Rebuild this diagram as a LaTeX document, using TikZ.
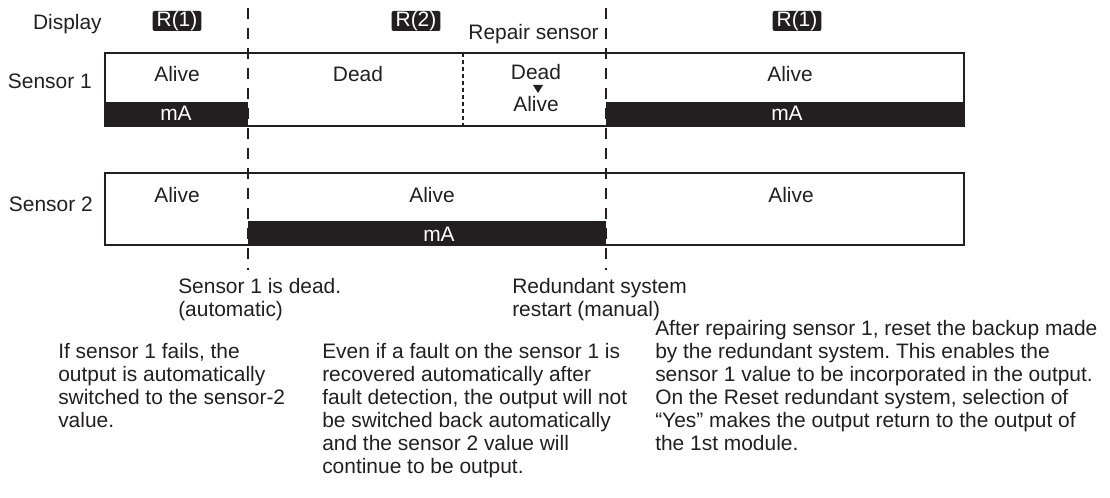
\documentclass[tikz,border=0pt]{standalone}
\usepackage{fontspec}
\setmainfont{Liberation Sans}
\usetikzlibrary{positioning, calc}
\definecolor{ink}{RGB}{35,31,32}
\frenchspacing

\begin{document}
\begin{tikzpicture}[
        x=0.75pt, y=-0.75pt,
        every node/.style={
            text=ink, inner sep=0pt,
            font=\fontsize{15.7}{17.2}\selectfont,
        },
        lane/.style={draw=ink, line width=1.4pt},
        badge/.style={
            fill=ink, text=white, rounded corners=1.5pt,
            minimum height=15pt, inner xsep=3pt,
        },
        switchover/.style={
            draw=ink, line width=1.5pt, dash pattern=on 8.25pt off 6.75pt,
        },
        repairline/.style={
            draw=ink, line width=1.2pt, dash pattern=on 3pt off 2.25pt,
        },
        state/.style={anchor=base},
        note/.style={anchor=north west, align=left},
    ]
    \useasboundingbox (0,0) rectangle (1110,498);

    \coordinate (fail-top) at (248,8);
    \coordinate (fail-bottom) at (248,270);
    \coordinate (restart-top) at (606,8);
    \coordinate (restart-bottom) at (606,270);
    \coordinate (repair-top) at (463,53);
    \coordinate (repair-bottom) at (463,126);

    \fill[ink] (105,102) rectangle (248,126);
    \fill[ink] (606,102) rectangle (964,126);
    \fill[ink] (248,221) rectangle (606,245);
    \draw[lane] (105,53) rectangle (964,126);
    \draw[lane] (105,173) rectangle (964,245);
    \draw[repairline] (repair-top) -- (repair-bottom);
    \draw[switchover] (fail-top) -- (fail-bottom);
    \draw[switchover] (restart-top) -- (restart-bottom);

    \node[anchor=base east] (display) at (102,30) {Display};
    \node[badge] (r1-before) at (177,21) {R(1)};
    \node[badge] (r2) at (416,21) {R(2)};
    \node[badge] (r1-after) at (797,21) {R(1)};
    \node[anchor=base east] (repair) at (599,40) {Repair sensor};

    \node[anchor=base east] (sensor1) at (92,89) {Sensor 1};
    \node[state] (s1-alive) at (177,82) {Alive};
    \node[state, text=white] (s1-ma) at (176,121) {mA};
    \node[state] (s1-dead) at (358,82) {Dead};
    \node[state] (s1-was) at (536,80) {Dead};
    \node[state] (s1-back) at (536,112) {Alive};
    \fill[ink] (533,85) -- (543,85) -- (538,93) -- cycle;
    \node[state] (s1-alive-again) at (790,82) {Alive};
    \node[state, text=white] (s1-ma-again) at (787,121) {mA};

    \node[anchor=base east] (sensor2) at (93,212) {Sensor 2};
    \node[state] (s2-alive) at (177,203) {Alive};
    \node[state] (s2-alive-mid) at (432,203) {Alive};
    \node[state, text=white] (s2-ma) at (439,242) {mA};
    \node[state] (s2-alive-end) at (791,203) {Alive};

    \node[note] (auto) at (178,278) {Sensor 1 is dead.\\(automatic)};
    \node[note] (manual) at (512,278) {Redundant system\\restart (manual)};

    \node[note] (note-fail) at (58,343) {If sensor 1 fails, the\\
        output is automatically\\switched to the sensor-2\\value.};
    \node[note] (note-keep) at (322,343) {Even if a fault on the sensor 1 is\\
        recovered automatically after\\fault detection, the output will not\\
        be switched back automatically\\and the sensor 2 value will\\
        continue to be output.};
    \node[note] (note-reset) at (655,320) {After repairing sensor 1, reset the backup made\\
        by the redundant system. This enables the\\
        sensor 1 value to be incorporated in the output.\\
        On the Reset redundant system, selection of\\
        “Yes” makes the output return to the output of\\
        the 1st module.};
\end{tikzpicture}
\end{document}
